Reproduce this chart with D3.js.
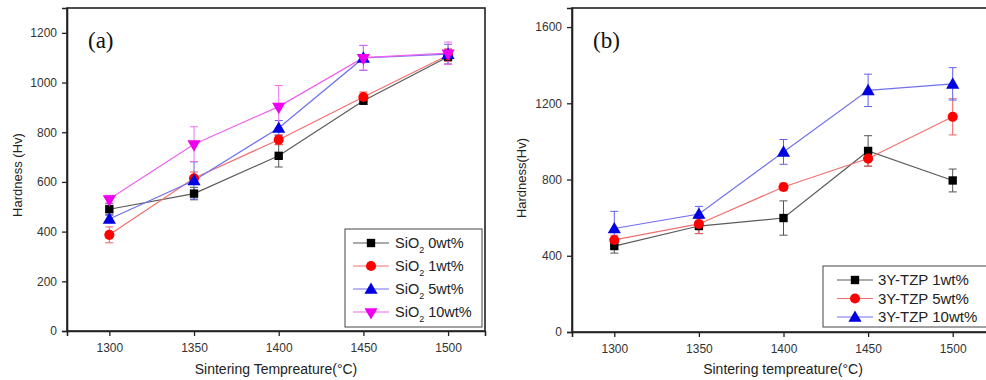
<!DOCTYPE html>
<html><head><meta charset="utf-8">
<script src="https://cdn.jsdelivr.net/npm/d3@7"></script>
<style>body{margin:0;background:#fff}svg{display:block;font-family:Arial,"Liberation Sans",sans-serif}</style>
</head><body><svg id="c" width="986" height="380"></svg>
<script>
const temps = [1300, 1350, 1400, 1450, 1500];
const xTicks = [1300, 1350, 1400, 1450, 1500];
const yTicksA = [0, 200, 400, 600, 800, 1000, 1200];
const yTicksB = [0, 400, 800, 1200, 1600];

const seriesANames = ["SiO2 0wt%", "SiO2 1wt%", "SiO2 5wt%", "SiO2 10wt%"];
const sio2_0 = [490, 553, 705, 927, 1104];
const sio2_0_err = [22, 25, 45, 15, 30];
const sio2_1 = [387, 615, 770, 942, 1110];
const sio2_1_err = [32, 25, 20, 20, 25];
const sio2_5 = [451, 606, 817, 1099, 1114];
const sio2_5_err = [15, 75, 30, 50, 40];
const sio2_10 = [531, 752, 903, 1100, 1118];
const sio2_10_err = [15, 70, 85, 50, 45];

const seriesBNames = ["3Y-TZP 1wt%", "3Y-TZP 5wt%", "3Y-TZP 10wt%"];
const tzp_1 = [451, 556, 598, 950, 795];
const tzp_1_err = [37, 40, 90, 80, 60];
const tzp_5 = [483, 567, 761, 910, 1129];
const tzp_5_err = [25, 50, 20, 40, 95];
const tzp_10 = [543, 619, 945, 1268, 1302];
const tzp_10_err = [90, 40, 65, 85, 85];

const styles = [
  {line:"#5a5a5a", fill:"#000", err:"#555", sym:d3.symbolSquare},
  {line:"#f07070", fill:"#f00", err:"#f06060", sym:d3.symbolCircle},
  {line:"#7070f0", fill:"#0000e0", err:"#6060f0", sym:d3.symbolTriangle},
  {line:"#f060f0", fill:"#f000f0", err:"#f070f0", sym:"down"}
];

const svg = d3.select("#c");

function marker(g, st, x, y) {
  if (st.sym === "down") {
    g.append("path").attr("d", d3.symbol().type(d3.symbolTriangle).size(75)())
      .attr("transform", `translate(${x},${y}) rotate(180)`).attr("fill", st.fill);
  } else {
    const size = st.sym === d3.symbolSquare ? 70 : st.sym === d3.symbolCircle ? 80 : 75;
    g.append("path").attr("d", d3.symbol().type(st.sym).size(size)())
      .attr("transform", `translate(${x},${y + (st.sym===d3.symbolTriangle?1:0)})`).attr("fill", st.fill);
  }
}

function panel(cfg) {
  const x = d3.scaleLinear().domain(cfg.xDomain).range([cfg.left, cfg.right]);
  const y = d3.scaleLinear().domain(cfg.yDomain).range([cfg.bottom, cfg.top]);
  const g = svg.append("g");
  g.append("rect").attr("x", cfg.left).attr("y", cfg.top)
    .attr("width", cfg.right - cfg.left).attr("height", cfg.bottom - cfg.top)
    .attr("fill", "none").attr("stroke", "#222").attr("stroke-width", 1.6);
  const ax = g.append("g").attr("transform", `translate(0,${cfg.bottom})`)
    .call(d3.axisBottom(x).tickValues(xTicks).tickSize(5).tickPadding(7).tickFormat(d3.format("d")));
  const ay = g.append("g").attr("transform", `translate(${cfg.left},0)`)
    .call(d3.axisLeft(y).tickValues(cfg.yTicks).tickSize(5).tickPadding(5).tickFormat(d3.format("d")));
  [ax, ay].forEach(a => {
    a.select(".domain").attr("stroke", "#222").attr("stroke-width", 1.6);
    a.selectAll(".tick line").attr("stroke", "#222").attr("stroke-width", 1.3);
    a.selectAll(".tick text").attr("fill", "#333").attr("font-size", 12);
  });
  g.append("text").attr("x", cfg.xTitleX).attr("y", 374).attr("text-anchor", "middle")
    .attr("font-size", 14).attr("fill", "#222").text(cfg.xTitle);
  g.append("text").attr("transform", `translate(${cfg.yTitleX},${cfg.yTitleY}) rotate(-90)`)
    .attr("text-anchor", "middle").attr("font-size", 13).attr("fill", "#222").text(cfg.yTitle);
  g.append("text").attr("x", cfg.left + 21).attr("y", 48)
    .attr("font-family", "'Liberation Serif','Times New Roman',serif").attr("font-size", 23)
    .attr("fill", "#111").text(cfg.tag);

  const line = d3.line().x((d, i) => x(temps[i])).y(d => y(d));
  cfg.series.forEach((s, k) => {
    const st = styles[k];
    g.append("path").datum(s.v).attr("d", line).attr("fill", "none")
      .attr("stroke", st.line).attr("stroke-width", 1.2);
  });
  cfg.series.forEach((s, k) => {
    const st = styles[k];
    s.v.forEach((v, i) => {
      const cx = x(temps[i]);
      const y1 = y(v + s.e[i]), y2 = y(v - s.e[i]);
      g.append("line").attr("x1", cx).attr("x2", cx).attr("y1", y1).attr("y2", y2)
        .attr("stroke", st.err).attr("stroke-width", 1);
      [y1, y2].forEach(yy => g.append("line").attr("x1", cx - 4).attr("x2", cx + 4)
        .attr("y1", yy).attr("y2", yy).attr("stroke", st.err).attr("stroke-width", 1));
    });
  });
  cfg.series.forEach((s, k) => {
    const st = styles[k];
    s.v.forEach((v, i) => marker(g, st, x(temps[i]), y(v)));
  });

  const L = cfg.legend;
  g.append("rect").attr("x", L.x).attr("y", L.y).attr("width", L.w).attr("height", L.h)
    .attr("fill", "#fff").attr("stroke", "#444").attr("stroke-width", 1);
  cfg.series.forEach((s, k) => {
    const st = styles[k];
    const yy = L.y + L.first + k * L.step;
    g.append("line").attr("x1", L.x + L.lx1).attr("x2", L.x + L.lx2).attr("y1", yy).attr("y2", yy)
      .attr("stroke", st.line).attr("stroke-width", 1.2);
    marker(g, st, L.x + (L.lx1 + L.lx2) / 2, yy);
    const t = g.append("text").attr("x", L.x + L.tx).attr("y", yy + 5).attr("font-size", L.fs).attr("fill", "#222");
    if (s.name.startsWith("SiO2")) {
      t.append("tspan").text("SiO");
      t.append("tspan").attr("font-size", 9).attr("dy", 5).text("2");
      t.append("tspan").attr("dy", -5).text(s.name.slice(4));
    } else {
      t.text(s.name);
    }
  });
}

panel({
  left: 67, right: 485, top: 8, bottom: 331,
  xDomain: [1275, 1521.8], yDomain: [0, 1300], yTicks: yTicksA,
  xTitle: "Sintering Tempreature(\u00B0C)", xTitleX: 276,
  yTitle: "Hardness (Hv)", yTitleX: 22, yTitleY: 175, tag: "(a)",
  series: [
    {name: seriesANames[0], v: sio2_0, e: sio2_0_err},
    {name: seriesANames[1], v: sio2_1, e: sio2_1_err},
    {name: seriesANames[2], v: sio2_5, e: sio2_5_err},
    {name: seriesANames[3], v: sio2_10, e: sio2_10_err}
  ],
  legend: {x: 345, y: 229, w: 137, h: 98, first: 14, step: 23, lx1: 8, lx2: 44, tx: 50, fs: 14.5}
});

panel({
  left: 572, right: 995, top: 8, bottom: 332,
  xDomain: [1275, 1525], yDomain: [0, 1700], yTicks: yTicksB,
  xTitle: "Sintering tempreature(\u00B0C)", xTitleX: 783,
  yTitle: "Hardness(Hv)", yTitleX: 526, yTitleY: 178, tag: "(b)",
  series: [
    {name: seriesBNames[0], v: tzp_1, e: tzp_1_err},
    {name: seriesBNames[1], v: tzp_5, e: tzp_5_err},
    {name: seriesBNames[2], v: tzp_10, e: tzp_10_err}
  ],
  legend: {x: 823, y: 266, w: 170, h: 61, first: 14, step: 18.5, lx1: 14, lx2: 50, tx: 55, fs: 15}
});
</script></body></html>
